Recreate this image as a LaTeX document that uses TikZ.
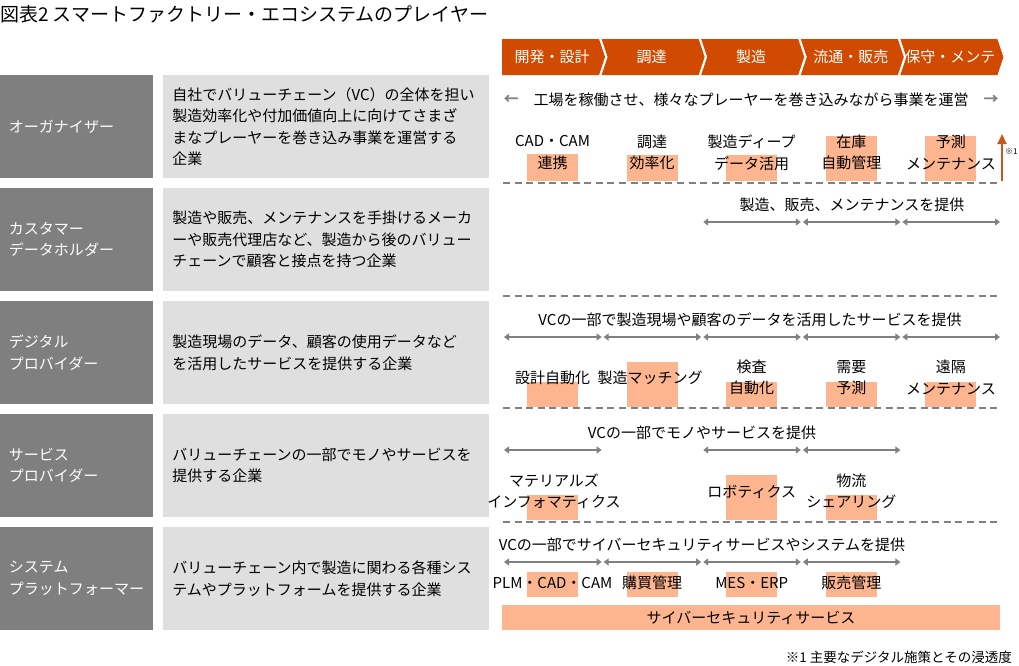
\documentclass[tikz,border=0pt]{standalone}
\usepackage{fontspec}
\setmainfont{Noto Sans CJK JP}
\usepackage{xcolor}
\usepackage{tikz}
\usetikzlibrary{arrows, arrows.meta, positioning, calc}

\definecolor{pwcorange}{HTML}{D04A02}
\definecolor{penorange}{HTML}{C9561A}
\definecolor{hlorange}{HTML}{FDB58F}
\definecolor{rolegray}{HTML}{7F7F7F}
\definecolor{descgray}{HTML}{DFDFDF}
\definecolor{linegray}{HTML}{808080}

\newcommand{\mainfnt}{\fontsize{15}{21.5}\selectfont}
\newcommand{\titlefnt}{\fontsize{19}{22}\selectfont}
\newcommand{\notefnt}{\fontsize{13.5}{16}\selectfont}
\newcommand{\tinyfnt}{\fontsize{8}{9}\selectfont}
% penetration box behind an item: column, top, bottom
\newcommand{\hlbox}[3]{\fill[hl] ({527+99.6*(#1-1)},#2) rectangle ({578+99.6*(#1-1)},#3);}

\tikzset{
  rolebox/.style={fill=rolegray, text=white, minimum width=153pt, minimum height=103pt, text width=135pt, inner xsep=9pt, align=left, font=\mainfnt},
  descbox/.style={fill=descgray, minimum width=326pt, minimum height=103pt, text width=308pt, inner xsep=9pt, align=left, font=\mainfnt},
  stagetext/.style={inner sep=0pt, text=white, font=\mainfnt},
  item/.style={inner sep=0pt, align=center, font=\mainfnt},
  sepline/.style={linegray, line width=2pt, dash pattern=on 7pt off 4.6pt},
  span/.style={linegray, line width=1.6pt, {Triangle[length=5pt,width=7pt]}-{Triangle[length=5pt,width=7pt]}, shorten <=1pt, shorten >=1pt},
  pen/.style={penorange, line width=2pt, -{Triangle[length=10pt,width=9pt]}},
  hl/.style={fill=hlorange},
}

\begin{document}
\begin{tikzpicture}[x=1pt, y=-1pt]
  \useasboundingbox (0,0) rectangle (1019,665);

  \node[anchor=west, inner sep=0pt, font=\titlefnt] (title) at (0,14) {図表2 スマートファクトリー・エコシステムのプレイヤー};

  % value chain
  \foreach \stage [count=\i from 0] in {開発・設計,調達,製造,流通・販売,保守・メンテ} {
    \pgfmathsetmacro{\L}{502+99.6*\i}
    \pgfmathsetmacro{\n}{\i>0 ? 6 : 0}
    \fill[pwcorange] (\L,39) -- ++(97,0) -- ++(6,18) -- ++(-6,18) -- (\L,75) -- ++(\n,-18) -- cycle;
    \node[stagetext] (stage\i) at (\L+50,57) {\stage};
  }

  % players
  \foreach \r/\who/\what in {
      1/{オーガナイザー}/{自社でバリューチェーン（VC）の全体を担い\\製造効率化や付加価値向上に向けてさまざ\\まなプレーヤーを巻き込み事業を運営する\\企業},
      2/{カスタマー\\データホルダー}/{製造や販売、メンテナンスを手掛けるメーカ\\ーや販売代理店など、製造から後のバリュー\\チェーンで顧客と接点を持つ企業},
      3/{デジタル\\プロバイダー}/{製造現場のデータ、顧客の使用データなど\\を活用したサービスを提供する企業},
      4/{サービス\\プロバイダー}/{バリューチェーンの一部でモノやサービスを\\提供する企業},
      5/{システム\\プラットフォーマー}/{バリューチェーン内で製造に関わる各種シス\\テムやプラットフォームを提供する企業}} {
    \node[rolebox] (who\r) at (76.5,{126.5+113*(\r-1)}) {\who};
    \node[descbox, right=10pt of who\r] (what\r) {\what};
  }

  \foreach \y in {183,296,408,522}
    \draw[sepline] (503,\y) -- (1000,\y);

  \foreach \r/\y in {2/222,3/337,4/450,5/562}
    \foreach \k in {0,...,5}
      \coordinate (s\r-\k) at ({503+99.6*\k},\y);

  % organizer
  \hlbox{1}{154}{181} \hlbox{2}{155}{181} \hlbox{3}{155}{181} \hlbox{4}{136}{181} \hlbox{5}{136}{181}
  \node[item, text=linegray, font=\mainfnt\bfseries] (r1l) at (511,100) {←};
  \node[item] (r1lead) at (751,100) {工場を稼働させ、様々なプレーヤーを巻き込みながら事業を運営};
  \node[item, text=linegray, font=\mainfnt\bfseries] (r1r) at (991,100) {→};
  \node[item] (i11) at (552.5,152.5) {CAD・CAM\\連携};
  \node[item] (i12) at (652,152.5) {調達\\効率化};
  \node[item] (i13) at (751.7,152.5) {製造ディープ\\データ活用};
  \node[item] (i14) at (851.3,152.5) {在庫\\自動管理};
  \node[item] (i15) at (950.9,152.5) {予測\\メンテナンス};
  \coordinate (pen0) at (1002,181);
  \coordinate (pen1) at (1002,134);
  \draw[pen] (pen0) -- (pen1);
  \node[anchor=west, inner sep=0pt, font=\tinyfnt] (mark) at (1005,152) {※1};

  % customer data holder
  \node[item] (r2lead) at (852,205) {製造、販売、メンテナンスを提供};
  \foreach \a/\b in {2/3,3/4,4/5}
    \draw[span] (s2-\a) -- (s2-\b);

  % digital provider
  \node[item] (r3lead) at (750,320) {VCの一部で製造現場や顧客のデータを活用したサービスを提供};
  \foreach \a/\b in {0/1,1/2,2/3,3/4,4/5}
    \draw[span] (s3-\a) -- (s3-\b);
  \hlbox{1}{382}{407} \hlbox{2}{362}{407} \hlbox{3}{382}{407} \hlbox{4}{382}{407} \hlbox{5}{382}{407}
  \node[item] (i31) at (552.5,378) {設計自動化};
  \node[item] (i32) at (650,378) {製造マッチング};
  \node[item] (i33) at (751.7,377.5) {検査\\自動化};
  \node[item] (i34) at (851.3,377.5) {需要\\予測};
  \node[item] (i35) at (950.9,377.5) {遠隔\\メンテナンス};

  % service provider
  \node[item] (r4lead) at (702,433) {VCの一部でモノやサービスを提供};
  \foreach \a/\b in {0/1,2/3,3/4}
    \draw[span] (s4-\a) -- (s4-\b);
  \hlbox{1}{495}{520} \hlbox{3}{475}{520} \hlbox{4}{495}{520}
  \node[item] (i41) at (554,491) {マテリアルズ\\インフォマティクス};
  \node[item] (i43) at (751.7,492) {ロボティクス};
  \node[item] (i44) at (851.3,491) {物流\\シェアリング};

  % system platformer
  \node[item] (r5lead) at (702,545) {VCの一部でサイバーセキュリティサービスやシステムを提供};
  \foreach \a/\b in {0/1,1/2,2/3,3/4}
    \draw[span] (s5-\a) -- (s5-\b);
  \hlbox{1}{572}{597} \hlbox{2}{572}{597} \hlbox{3}{572}{597} \hlbox{4}{572}{597}
  \node[item] (i51) at (552.5,583) {PLM・CAD・CAM};
  \node[item] (i52) at (652,583) {購買管理};
  \node[item] (i53) at (751.7,583) {MES・ERP};
  \node[item] (i54) at (851.3,583) {販売管理};
  \node[item, fill=hlorange, minimum width=498pt, minimum height=25pt] (cyber) at (751,617.5) {サイバーセキュリティサービス};

  \node[anchor=east, inner sep=0pt, font=\notefnt] (note) at (1012,657) {※1 主要なデジタル施策とその浸透度};
\end{tikzpicture}
\end{document}
